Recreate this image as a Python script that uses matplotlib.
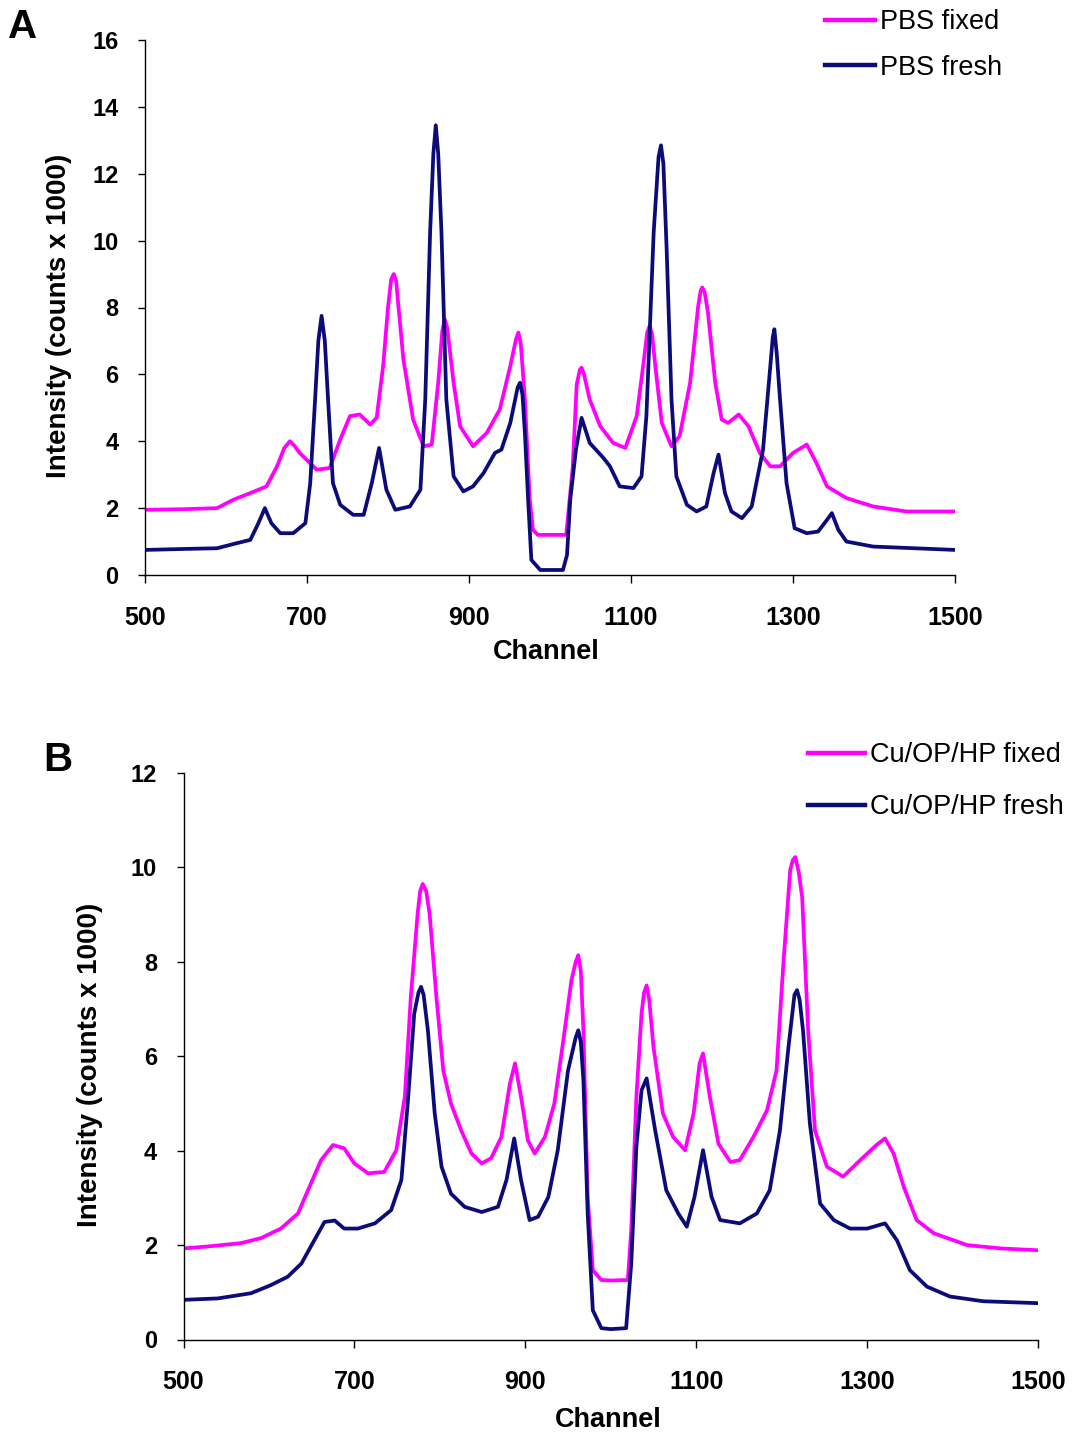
import matplotlib
matplotlib.use("Agg")
import matplotlib.pyplot as plt
from matplotlib.lines import Line2D

plt.rcParams['font.family'] = ['Liberation Sans', 'DejaVu Sans']

# ---------------- Panel A data (channel, intensity in counts x 1000) ----------------
a_fixed_ch = [500, 550, 589, 609, 630, 650, 663, 672, 679, 685, 691, 712, 728, 741, 753, 765, 778, 786,
              794, 800, 804, 807, 810, 813, 819, 831, 844, 854, 862, 867, 870, 873, 875, 881, 889, 905, 922, 938, 951,
              958, 961, 964, 969, 975, 979, 985, 1000, 1020, 1028, 1033, 1037, 1039, 1042, 1049, 1062, 1078, 1093,
              1107, 1115, 1120, 1123, 1126, 1130, 1138, 1150, 1160, 1173, 1183, 1186, 1188, 1191, 1195, 1204, 1212,
              1220, 1233, 1245, 1259, 1272, 1284, 1300, 1317, 1329, 1342, 1366, 1399, 1440, 1500]
a_fixed_val = [1.95, 1.97, 2.0, 2.25, 2.45, 2.65, 3.25, 3.8, 4.0, 3.85, 3.65, 3.15, 3.2, 4.05, 4.75, 4.8, 4.5, 4.7,
               6.25, 8.0, 8.85, 9.0, 8.8, 8.0, 6.45, 4.65, 3.85, 3.9, 5.75, 7.3, 7.65, 7.4, 7.0, 5.75, 4.45, 3.85, 4.25, 4.95, 6.25,
               7.05, 7.25, 6.9, 5.25, 2.25, 1.35, 1.2, 1.2, 1.2, 3.2, 5.7, 6.15, 6.2, 6.0, 5.25, 4.45, 3.95, 3.8,
               4.75, 6.25, 7.25, 7.45, 7.2, 6.25, 4.55, 3.85, 4.15, 5.75, 8.05, 8.5, 8.6, 8.45, 7.85, 5.75, 4.65,
               4.55, 4.8, 4.45, 3.65, 3.25, 3.25, 3.65, 3.9, 3.35, 2.65, 2.3, 2.05, 1.9, 1.9]

a_fresh_ch = [500, 550, 589, 613, 630, 640, 648, 656, 667, 683, 698, 704, 710, 714, 718, 722, 726, 732,
              741, 757, 770, 780, 789, 798, 809, 827, 840, 846, 852, 856, 859, 862, 866, 872, 881,
              893, 905, 918, 932, 940, 951, 960, 963, 966, 969, 973, 977, 988, 1000, 1016, 1021, 1025,
              1032, 1039, 1049, 1066, 1074, 1086, 1103, 1113, 1119, 1128, 1134, 1137, 1140, 1144,
              1150, 1156, 1169, 1181, 1193, 1202, 1208, 1216, 1224, 1237, 1249, 1263, 1272,
              1275, 1277, 1280, 1284, 1292, 1302, 1317, 1331, 1342, 1348, 1356, 1366, 1399, 1450, 1500]
a_fresh_val = [0.75, 0.78, 0.8, 0.95, 1.05, 1.55, 2.0, 1.55, 1.25, 1.25, 1.55, 2.75, 5.25, 7.0, 7.75, 7.0, 5.25, 2.75,
               2.1, 1.8, 1.8, 2.75, 3.8, 2.55, 1.95, 2.05, 2.55, 5.25, 10.25, 12.6, 13.45, 12.6, 10.25, 5.25, 2.95,
               2.5, 2.65, 3.05, 3.65, 3.75, 4.55, 5.6, 5.75, 5.4, 4.25, 2.25, 0.45, 0.15, 0.15, 0.15, 0.6, 2.25,
               3.75, 4.7, 3.95, 3.5, 3.25, 2.65, 2.6, 2.95, 4.75, 10.25, 12.5, 12.85, 12.3, 9.75,
               5.25, 2.95, 2.1, 1.9, 2.05, 3.05, 3.6, 2.45, 1.9, 1.7, 2.05, 3.75, 6.25,
               7.1, 7.35, 6.6, 5.25, 2.75, 1.4, 1.25, 1.3, 1.65, 1.85, 1.35, 1.0, 0.85, 0.8, 0.75]

# ---------------- Panel B data ----------------
b_fixed_ch = [500, 528, 567, 591, 614, 634, 649, 661, 675, 688, 700, 716, 735, 749, 759, 766, 774,
              777, 780, 784, 788, 796, 804, 813, 825, 837, 849, 860, 872, 882, 888, 895, 903, 911, 923,
              934, 944, 954, 959, 962, 965, 968, 973, 979, 989, 1000, 1020, 1024, 1030, 1036, 1039, 1042, 1045, 1050,
              1061, 1073, 1087, 1097, 1104, 1108, 1116, 1126, 1140, 1151, 1167, 1183, 1194,
              1202, 1210, 1213, 1216, 1220, 1224, 1231, 1239, 1253, 1272, 1292, 1311, 1321, 1331, 1343,
              1358, 1378, 1417, 1456, 1500]
b_fixed_val = [1.93, 1.97, 2.04, 2.15, 2.35, 2.67, 3.3, 3.8, 4.12, 4.05, 3.73, 3.52, 3.55, 4.01, 5.14, 7.25, 9.02,
               9.5, 9.65, 9.5, 9.02, 7.25, 5.7, 5.0, 4.43, 3.94, 3.73, 3.84, 4.29, 5.42, 5.85, 5.14, 4.22, 3.94, 4.29,
               5.0, 6.27, 7.61, 8.0, 8.14, 7.8, 6.55, 3.02, 1.47, 1.26, 1.25, 1.26, 2.32, 5.14, 6.9, 7.35, 7.5, 7.2, 6.2,
               4.79, 4.29, 4.01, 4.79, 5.85, 6.06, 5.14, 4.15, 3.76, 3.8, 4.29, 4.86, 5.7,
               7.96, 9.94, 10.15, 10.22, 9.9, 9.37, 6.55, 4.43, 3.66, 3.45, 3.8, 4.12, 4.26, 3.94, 3.23,
               2.53, 2.25, 2.0, 1.93, 1.89]

b_fresh_ch = [500, 540, 579, 602, 622, 638, 653, 665, 677, 688, 704, 724, 743, 755, 763, 770, 775, 778,
              781, 786, 794, 802, 813, 829, 849, 868, 878, 887, 895, 905, 915, 927, 938, 950, 959, 962,
              965, 968, 973, 979, 989, 1000, 1018, 1024, 1030, 1036, 1042, 1052, 1065, 1079, 1089,
              1098, 1108, 1118, 1128, 1151, 1171, 1186, 1198, 1208, 1215, 1218, 1221, 1225, 1233, 1245,
              1261, 1280, 1300, 1321, 1335, 1350, 1370, 1397, 1436, 1500]
b_fresh_val = [0.84, 0.87, 0.98, 1.15, 1.33, 1.61, 2.1, 2.49, 2.52, 2.35, 2.35, 2.46, 2.74, 3.38, 5.14, 6.9, 7.35, 7.47,
               7.3, 6.55, 4.79, 3.66, 3.09, 2.81, 2.7, 2.81, 3.38, 4.26, 3.38, 2.53, 2.6, 3.02, 4.01, 5.7, 6.4, 6.55,
               6.3, 5.49, 2.67, 0.62, 0.24, 0.22, 0.24, 1.61, 4.08, 5.28, 5.53, 4.43, 3.16, 2.67, 2.39,
               3.02, 4.01, 3.02, 2.53, 2.46, 2.67, 3.16, 4.43, 6.2, 7.3, 7.4, 7.2, 6.55, 4.58, 2.88,
               2.53, 2.35, 2.35, 2.46, 2.1, 1.47, 1.12, 0.91, 0.81, 0.77]

x_ticks = [500, 700, 900, 1100, 1300, 1500]
a_yticks = list(range(0, 17, 2))
b_yticks = list(range(0, 13, 2))
a_labels = ["PBS fixed", "PBS fresh"]
b_labels = ["Cu/OP/HP fixed", "Cu/OP/HP fresh"]

MAG = '#FF00FF'
NAVY = '#0B0B7A'
W, H = 1076, 1438
LW = 2.7

fig = plt.figure(figsize=(W / 100, H / 100), dpi=100)


def px_axes(l, t, r, b):
    return fig.add_axes([l / W, 1 - b / H, (r - l) / W, (b - t) / H])


def style(ax, ymax, yticks):
    ax.set_xlim(500, 1500)
    ax.set_ylim(0, ymax)
    ax.set_xticks(x_ticks)
    ax.set_yticks(yticks)
    for s in ['top', 'right']:
        ax.spines[s].set_visible(False)
    for s in ['left', 'bottom']:
        ax.spines[s].set_linewidth(1.0)
    ax.tick_params(axis='x', direction='out', length=6, width=1, labelsize=18, pad=16)
    ax.tick_params(axis='y', direction='out', length=5, width=1, labelsize=17, pad=14)
    for lab in ax.get_xticklabels() + ax.get_yticklabels():
        lab.set_fontweight('bold')


axA = px_axes(145, 40, 955, 575)
axA.plot(a_fixed_ch, a_fixed_val, color=MAG, lw=LW, solid_joinstyle='round')
axA.plot(a_fresh_ch, a_fresh_val, color=NAVY, lw=LW, solid_joinstyle='round')
style(axA, 16, a_yticks)

axB = px_axes(183.5, 773, 1038, 1339.5)
axB.plot(b_fixed_ch, b_fixed_val, color=MAG, lw=LW, solid_joinstyle='round')
axB.plot(b_fresh_ch, b_fresh_val, color=NAVY, lw=LW, solid_joinstyle='round')
style(axB, 12, b_yticks)

# axis labels
fig.text(59 / W, 1 - 316 / H, "Intensity (counts x 1000)", rotation=90, ha='center', va='center',
         fontsize=20, fontweight='bold')
fig.text(546 / W, 1 - 652 / H, "Channel", ha='center', va='center', fontsize=19.5, fontweight='bold')
fig.text(90 / W, 1 - 1065 / H, "Intensity (counts x 1000)", rotation=90, ha='center', va='center',
         fontsize=20, fontweight='bold')
fig.text(608 / W, 1 - 1420 / H, "Channel", ha='center', va='center', fontsize=19.5, fontweight='bold')

# panel letters
fig.text(23 / W, 1 - 27 / H, "A", ha='center', va='center', fontsize=29, fontweight='bold')
fig.text(58 / W, 1 - 760 / H, "B", ha='center', va='center', fontsize=29, fontweight='bold')

# legends
hA = [Line2D([], [], color=MAG, lw=3.2), Line2D([], [], color=NAVY, lw=3.2)]
axA.legend(hA, a_labels, loc='upper left', bbox_to_anchor=(825 / W, 1 - 9 / H),
           bbox_transform=fig.transFigure, frameon=False, fontsize=19.5, borderpad=0,
           borderaxespad=0, handlelength=1.85, handletextpad=0.18, labelspacing=0.73)
hB = [Line2D([], [], color=MAG, lw=3.2), Line2D([], [], color=NAVY, lw=3.2)]
axB.legend(hB, b_labels, loc='upper left', bbox_to_anchor=(808 / W, 1 - 742 / H),
           bbox_transform=fig.transFigure, frameon=False, fontsize=19.5, borderpad=0,
           borderaxespad=0, handlelength=2.1, handletextpad=0.18, labelspacing=0.97)

fig.savefig("out.png", dpi=100)
